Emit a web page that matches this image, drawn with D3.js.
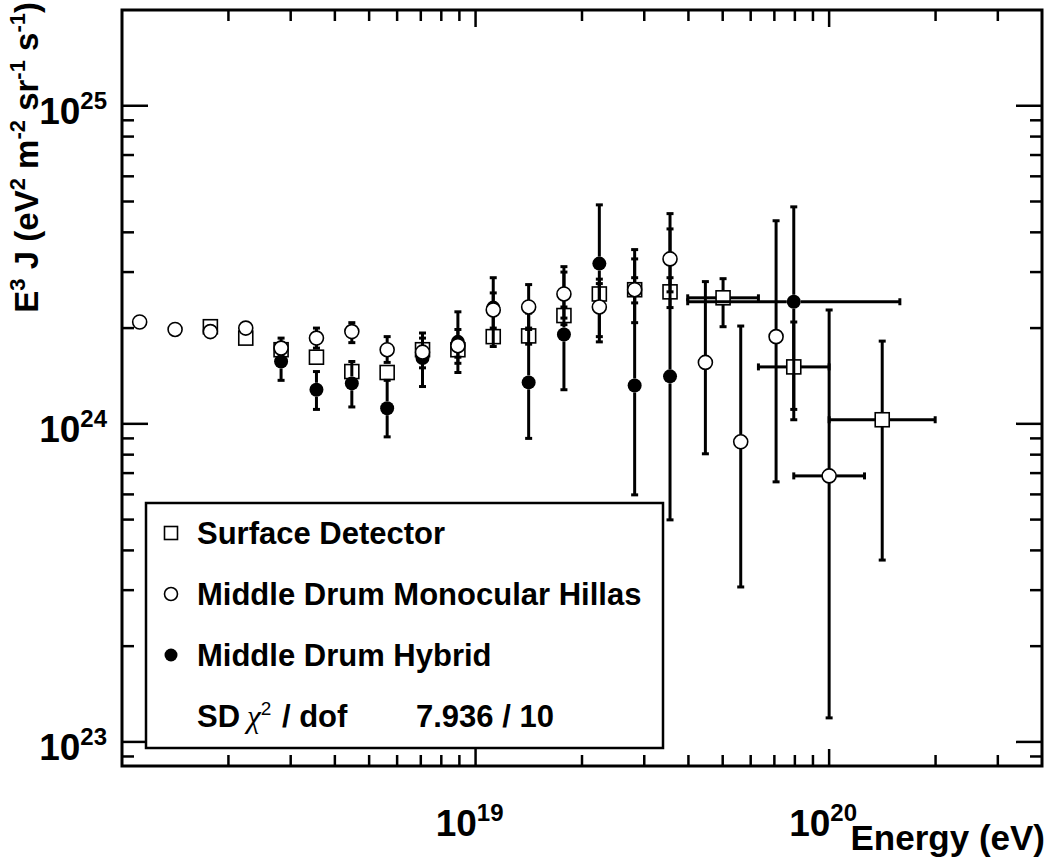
<!DOCTYPE html>
<html><head><meta charset="utf-8">
<script src="https://cdn.jsdelivr.net/npm/d3@7"></script>
<style>body{margin:0;background:#fff}</style>
</head><body>
<svg id="c" width="1048" height="861"></svg>
<script>
// ---------- data (energies in eV, E^3 J in eV^2 m^-2 sr^-1 s^-1) ----------
const sdEnergy = [1.778e18, 2.239e18, 2.818e18, 3.548e18, 4.467e18, 5.623e18, 7.079e18, 8.913e18, 1.122e19, 1.413e19, 1.778e19, 2.239e19, 2.818e19, 3.548e19, 5.012e19, 7.943e19, 1.413e20];
const sdValue  = [2.02e24, 1.86e24, 1.71e24, 1.62e24, 1.46e24, 1.45e24, 1.71e24, 1.71e24, 1.88e24, 1.89e24, 2.19e24, 2.56e24, 2.64e24, 2.60e24, 2.49e24, 1.51e24, 1.03e24];
const sdHigh   = [2.08e24, 1.92e24, 1.77e24, 1.68e24, 1.52e24, 1.52e24, 1.79e24, 1.80e24, 1.97e24, 2.00e24, 2.33e24, 2.76e24, 2.88e24, 2.88e24, 2.86e24, 2.09e24, 1.82e24];
const sdLow    = [1.96e24, 1.80e24, 1.65e24, 1.56e24, 1.40e24, 1.38e24, 1.63e24, 1.62e24, 1.79e24, 1.78e24, 2.05e24, 2.36e24, 2.40e24, 2.32e24, 2.02e24, 1.11e24, 0.373e24];
const sdEnergyLow  = [null, null, null, null, null, null, null, null, null, null, null, null, null, null, 3.981e19, 6.310e19, 1.0e20];
const sdEnergyHigh = [null, null, null, null, null, null, null, null, null, null, null, null, null, null, 6.310e19, 1.0e20, 1.995e20];

const hillasEnergy = [1.122e18, 1.413e18, 1.778e18, 2.239e18, 2.818e18, 3.548e18, 4.467e18, 5.623e18, 7.079e18, 8.913e18, 1.122e19, 1.413e19, 1.778e19, 2.239e19, 2.818e19, 3.548e19, 4.467e19, 5.623e19, 7.079e19, 1.0e20];
const hillasValue  = [2.09e24, 1.98e24, 1.95e24, 2.00e24, 1.73e24, 1.86e24, 1.95e24, 1.71e24, 1.68e24, 1.76e24, 2.28e24, 2.33e24, 2.56e24, 2.33e24, 2.64e24, 3.30e24, 1.56e24, 0.878e24, 1.88e24, 0.686e24];
const hillasHigh   = [2.15e24, 2.04e24, 2.01e24, 2.07e24, 1.81e24, 2.00e24, 2.08e24, 1.88e24, 1.86e24, 1.98e24, 2.58e24, 2.74e24, 3.00e24, 2.85e24, 3.30e24, 4.10e24, 2.80e24, 2.03e24, 4.35e24, 2.28e24];
const hillasLow    = [2.03e24, 1.92e24, 1.89e24, 1.93e24, 1.65e24, 1.73e24, 1.80e24, 1.56e24, 1.50e24, 1.55e24, 2.00e24, 1.98e24, 2.15e24, 1.88e24, 2.08e24, 2.60e24, 0.805e24, 0.307e24, 0.657e24, 0.119e24];
const hillasEnergyLow  = [null, null, null, null, null, null, null, null, null, null, null, null, null, null, null, null, null, null, null, 7.943e19];
const hillasEnergyHigh = [null, null, null, null, null, null, null, null, null, null, null, null, null, null, null, null, null, null, null, 1.259e20];

const hybridEnergy = [2.818e18, 3.548e18, 4.467e18, 5.623e18, 7.079e18, 8.913e18, 1.122e19, 1.413e19, 1.778e19, 2.239e19, 2.818e19, 3.548e19, 7.943e19];
const hybridValue  = [1.57e24, 1.28e24, 1.34e24, 1.12e24, 1.61e24, 1.81e24, 2.32e24, 1.35e24, 1.91e24, 3.19e24, 1.32e24, 1.41e24, 2.42e24];
const hybridHigh   = [1.86e24, 1.46e24, 1.57e24, 1.37e24, 1.93e24, 2.25e24, 2.88e24, 2.23e24, 3.12e24, 4.88e24, 3.53e24, 4.58e24, 4.81e24];
const hybridLow    = [1.37e24, 1.11e24, 1.13e24, 0.91e24, 1.31e24, 1.45e24, 1.75e24, 0.90e24, 1.28e24, 1.81e24, 0.598e24, 0.499e24, 1.03e24];
const hybridEnergyLow  = [null, null, null, null, null, null, null, null, null, null, null, null, 3.981e19];
const hybridEnergyHigh = [null, null, null, null, null, null, null, null, null, null, null, null, 1.585e20];

const xMajorTicks = [1e19, 1e20];
const xMinorTicks = [2e18, 3e18, 4e18, 5e18, 6e18, 7e18, 8e18, 9e18, 2e19, 3e19, 4e19, 5e19, 6e19, 7e19, 8e19, 9e19, 2e20, 3e20];
const xTickLabels = [{base: "10", exp: "19"}, {base: "10", exp: "20"}];
const yMajorTicks = [1e23, 1e24, 1e25];
const yMinorTicks = [9e22, 2e23, 3e23, 4e23, 5e23, 6e23, 7e23, 8e23, 9e23, 2e24, 3e24, 4e24, 5e24, 6e24, 7e24, 8e24, 9e24];
const yTickLabels = [{base: "10", exp: "23"}, {base: "10", exp: "24"}, {base: "10", exp: "25"}];

const legendLabels = ["Surface Detector", "Middle Drum Monocular Hillas", "Middle Drum Hybrid"];
const chiLabel = {pre: "SD", chi: "\u03C7", sup: "2", post: " / dof", value: "7.936 / 10"};

// ---------- layout ----------
const L = 122, R = 1042, T = 10, B = 766;
const FONT = "'Liberation Sans', Arial, Helvetica, sans-serif";
const svg = d3.select("#c");
svg.append("rect").attr("width", 1048).attr("height", 861).attr("fill", "#fff");

const x = d3.scaleLog().domain([1e18, 4e20]).range([L, R]);
const y = d3.scaleLog().domain([8.4e22, 2.0e25]).range([B, T]);

// ticks (inward on all four sides)
const tickG = svg.append("g").attr("stroke", "#000").attr("stroke-width", 2.5);
function xt(vals, len) {
  vals.forEach(v => {
    tickG.append("line").attr("x1", x(v)).attr("x2", x(v)).attr("y1", B).attr("y2", B - len);
    tickG.append("line").attr("x1", x(v)).attr("x2", x(v)).attr("y1", T).attr("y2", T + len);
  });
}
function yt(vals, len) {
  vals.forEach(v => {
    tickG.append("line").attr("y1", y(v)).attr("y2", y(v)).attr("x1", L).attr("x2", L + len);
    tickG.append("line").attr("y1", y(v)).attr("y2", y(v)).attr("x1", R).attr("x2", R - len);
  });
}
xt(xMinorTicks, 11); xt(xMajorTicks, 17);
yt(yMinorTicks, 12); yt(yMajorTicks, 26);

// frame
svg.append("rect").attr("x", L).attr("y", T).attr("width", R - L).attr("height", B - T)
  .attr("fill", "none").attr("stroke", "#000").attr("stroke-width", 3);

// tick labels
xMajorTicks.forEach((v, i) => {
  const t = svg.append("text").attr("x", x(v) - 6).attr("y", 836).attr("text-anchor", "middle")
    .attr("font-family", FONT).attr("font-weight", "bold").attr("font-size", 37);
  t.append("tspan").text(xTickLabels[i].base);
  t.append("tspan").attr("dy", -15).attr("font-size", 24).text(xTickLabels[i].exp);
});
yMajorTicks.forEach((v, i) => {
  const t = svg.append("text").attr("x", 107).attr("y", y(v) + 18).attr("text-anchor", "end")
    .attr("font-family", FONT).attr("font-weight", "bold").attr("font-size", 37);
  t.append("tspan").text(yTickLabels[i].base);
  t.append("tspan").attr("dy", -15).attr("font-size", 24).text(yTickLabels[i].exp);
});

// axis titles
svg.append("text").attr("x", 1045).attr("y", 850).attr("text-anchor", "end")
  .attr("font-family", FONT).attr("font-weight", "bold").attr("font-size", 35).text("Energy (eV)");
const yt0 = svg.append("text").attr("transform", "translate(38,2) rotate(-90)").attr("text-anchor", "end")
  .attr("font-family", FONT).attr("font-weight", "bold").attr("font-size", 33);
[["E", 0], ["3", 1], [" J (eV", 0], ["2", 1], [" m", 0], ["-2", 1], [" sr", 0], ["-1", 1], [" s", 0], ["-1", 1], [")", 0]]
  .forEach(([s, sup], i, arr) => {
    const prevSup = i > 0 ? arr[i - 1][1] : 0;
    const sp = yt0.append("tspan").text(s);
    if (sup) sp.attr("font-size", 22);
    if (sup && !prevSup) sp.attr("dy", -13);
    else if (!sup && prevSup) sp.attr("dy", 13);
  });

// ---------- data drawing ----------
const plot = svg.append("g");
function drawMarker(g, marker, cx, cy, r) {
  if (marker === "square") {
    g.append("rect").attr("x", cx - r).attr("y", cy - r).attr("width", 2 * r).attr("height", 2 * r)
      .attr("fill", "none").attr("stroke", "#000").attr("stroke-width", 1.6);
  } else if (marker === "open") {
    g.append("circle").attr("cx", cx).attr("cy", cy).attr("r", r)
      .attr("fill", "#fff").attr("stroke", "#000").attr("stroke-width", 1.6);
  } else {
    g.append("circle").attr("cx", cx).attr("cy", cy).attr("r", r).attr("fill", "#000");
  }
}
function drawSeries(en, val, hi, lo, enLo, enHi, marker, r) {
  const g = plot.append("g");
  const cap = 3.5;
  en.forEach((e, i) => {
    const cx = x(e), cy = y(val[i]);
    const yh = y(hi[i]), yl = y(lo[i]);
    const segs = [];
    if (cy - r > yh) { segs.push([cx, yh, cx, cy - r]); segs.push([cx - cap, yh, cx + cap, yh]); }
    if (yl > cy + r) { segs.push([cx, cy + r, cx, yl]); segs.push([cx - cap, yl, cx + cap, yl]); }
    if (enLo[i] != null) {
      const xl = x(enLo[i]), xh = x(enHi[i]);
      segs.push([xl, cy, cx - r, cy]); segs.push([xl, cy - cap, xl, cy + cap]);
      segs.push([cx + r, cy, xh, cy]); segs.push([xh, cy - cap, xh, cy + cap]);
    }
    segs.forEach(s => g.append("line").attr("x1", s[0]).attr("y1", s[1]).attr("x2", s[2]).attr("y2", s[3])
      .attr("stroke", "#000").attr("stroke-width", 3));
    drawMarker(g, marker, cx, cy, r);
  });
}
drawSeries(sdEnergy, sdValue, sdHigh, sdLow, sdEnergyLow, sdEnergyHigh, "square", 7);
drawSeries(hybridEnergy, hybridValue, hybridHigh, hybridLow, hybridEnergyLow, hybridEnergyHigh, "filled", 7);
drawSeries(hillasEnergy, hillasValue, hillasHigh, hillasLow, hillasEnergyLow, hillasEnergyHigh, "open", 7);

// ---------- legend ----------
const lg = svg.append("g");
lg.append("rect").attr("x", 146).attr("y", 503).attr("width", 517).attr("height", 245)
  .attr("fill", "#fff").attr("stroke", "#000").attr("stroke-width", 2.5);
const markers = ["square", "open", "filled"];
const rowY = [533, 594, 655];
legendLabels.forEach((s, i) => {
  drawMarker(lg, markers[i], 171, rowY[i], 6.5);
  lg.append("text").attr("x", 197).attr("y", rowY[i] + 11).attr("font-family", FONT)
    .attr("font-weight", "bold").attr("font-size", 31).text(s);
});
const ct = lg.append("text").attr("x", 197).attr("y", 727).attr("font-family", FONT)
  .attr("font-weight", "bold").attr("font-size", 31);
ct.append("tspan").text(chiLabel.pre);
ct.append("tspan").attr("dx", 7).attr("font-family", "'Liberation Serif', 'DejaVu Serif', serif").attr("font-weight", "normal").attr("font-style", "italic").attr("font-size", 31).text(chiLabel.chi);
ct.append("tspan").attr("dy", -12).attr("font-size", 19).attr("font-weight", "normal").text(chiLabel.sup);
ct.append("tspan").attr("dy", 12).attr("dx", 2).text(chiLabel.post);
lg.append("text").attr("x", 416).attr("y", 727).attr("font-family", FONT)
  .attr("font-weight", "bold").attr("font-size", 31).text(chiLabel.value);
</script>
</body></html>
